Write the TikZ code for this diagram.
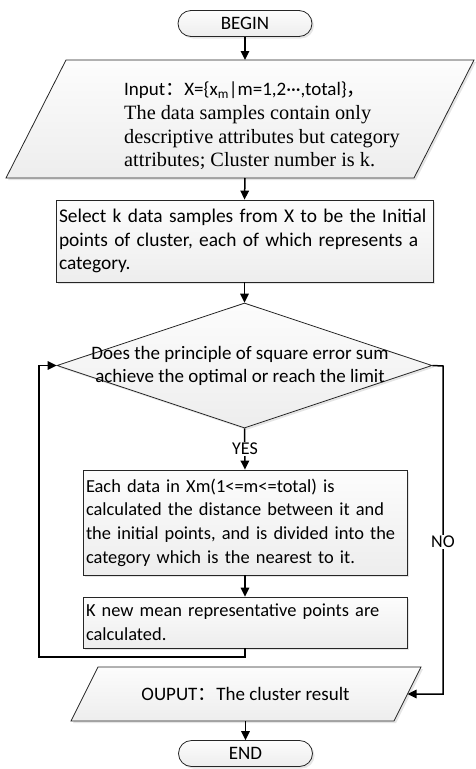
\documentclass[tikz,border=0pt]{standalone}
\usepackage{fontspec}
\setmainfont{Carlito}
\newfontfamily\tnr{Liberation Serif}
\newfontfamily\cjk{Noto Sans CJK SC}
\usetikzlibrary{shapes.geometric,shadows,arrows.meta}

\begin{document}
\begin{tikzpicture}[x=1pt,y=-1pt,
  box/.style={draw=black!85, line width=0.8pt, top color=gray!2, bottom color=gray!14,
    drop shadow={shadow xshift=2pt,shadow yshift=-2pt,fill=gray!40}},
  term/.style={box, rectangle, rounded corners=13pt, minimum width=134pt, minimum height=26pt, inner sep=0pt},
  proc/.style={box, rectangle, inner sep=0pt, align=left},
  dec/.style={box, diamond, inner sep=0pt},
  txt/.style={font=\fontsize{19}{23.6}\selectfont},
  txts/.style={font=\fontsize{18.4}{23.6}\selectfont},
  lbl/.style={font=\fontsize{18}{20}\selectfont, fill=white, inner sep=1pt},
  conn/.style={line width=1.5pt, -{Triangle[length=9pt,width=8.5pt]}},
]
\useasboundingbox (0,0) rectangle (475,769);

\node[term, txt] (begin) at (245,23.5) {BEGIN};

% input parallelogram
\coordinate (in-tl) at (66,60);
\coordinate (in-tr) at (474,60);
\coordinate (in-br) at (414,178);
\coordinate (in-bl) at (6,178);
\path[box] (in-tl) -- (in-tr) -- (in-br) -- (in-bl) -- cycle;
\coordinate (in-n) at (245,60);
\coordinate (in-s) at (245,178);
\node[txt, anchor=west, align=left, inner sep=0pt] (intext) at (124,126)
  {Input{\cjk ：}X=\{x\textsubscript{m}|m=1,2···,total\}{\cjk ，}\\
   {\tnr\fontsize{20.3}{23.6}\selectfont The data samples contain only}\\
   {\tnr\fontsize{20.3}{23.6}\selectfont descriptive attributes but category}\\
   {\tnr\fontsize{20.3}{23.6}\selectfont attributes; Cluster number is k.}};

\node[proc, txt, minimum width=377pt, minimum height=82pt, text width=371pt] (select) at (244.5,241)
  {\fontsize{19.4}{23.6}\selectfont Select k data samples from X to be the Initial\\points of cluster, each of which represents a\\category.};

\node[dec, minimum width=375pt, minimum height=125pt] (cond) at (244.5,365.5) {};
\node[txt, align=center, inner sep=0pt] (condtext) at (240,366)
  {Does the principle of square error sum\\achieve the optimal or reach the limit};

\node[proc, txts, minimum width=324pt, minimum height=105pt, text width=318pt] (assign) at (245,522.5)
  {Each data in Xm(1<=m<=total) is\\calculated the distance between it and\\the initial points, and is divided into the\\category which is the nearest to it.};

\node[proc, txts, minimum width=324pt, minimum height=51pt, text width=318pt] (update) at (245,622.5)
  {K new mean representative points are\\calculated.};

% output parallelogram
\coordinate (out-tl) at (98,667);
\coordinate (out-tr) at (421,667);
\coordinate (out-br) at (394,721);
\coordinate (out-bl) at (71,721);
\path[box] (out-tl) -- (out-tr) -- (out-br) -- (out-bl) -- cycle;
\coordinate (out-n) at (245.5,667);
\coordinate (out-s) at (245.5,721);
\coordinate (out-e) at (407.5,694);
\node[txt, inner sep=0pt] (output) at (245.5,694) {OUPUT{\cjk ：}The cluster result};

\node[term, txt] (end) at (245.5,753.5) {END};

\coordinate (loopc) at (39,657);
\coordinate (noc) at (443,366);

\draw[conn] (begin.south) -- (in-n);
\draw[conn] (in-s) -- (select.north);
\draw[conn] (select.south) -- (cond.north);
\draw[conn] (cond.south) -- (assign.north);
\node[lbl] (yes) at (245,449) {YES};
\draw[conn] (assign.south) -- (update.north);
\draw[conn] (update.south) |- (loopc) |- (cond.west);
\draw[conn] (cond.east) -- (noc) |- (out-e);
\node[lbl] (no) at (443,542) {NO};
\draw[conn] (out-s) -- (end.north);
\end{tikzpicture}
\end{document}
